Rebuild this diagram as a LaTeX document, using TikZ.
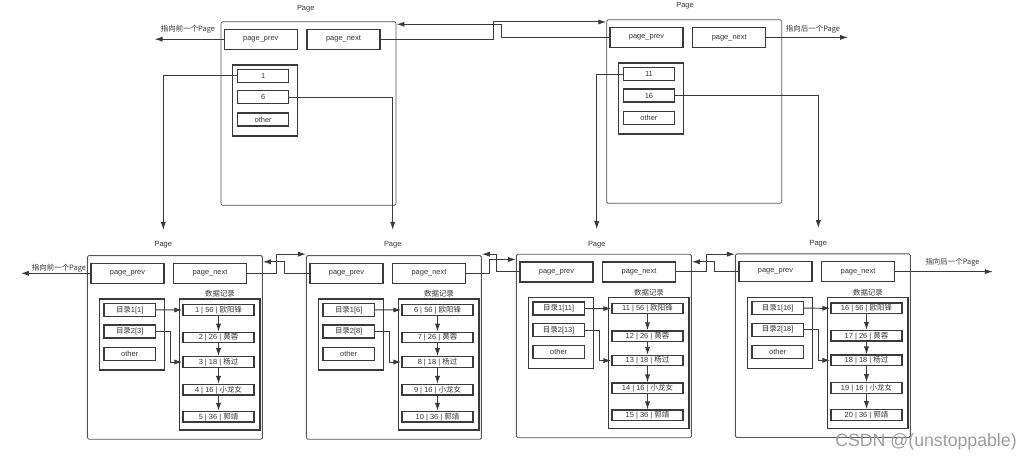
\documentclass[tikz,border=0pt]{standalone}
\usepackage{fontspec}
\setmainfont{Liberation Sans}
\newfontfamily\cjk{Noto Sans CJK SC}
\usetikzlibrary{arrows.meta,calc}
\definecolor{boxline}{HTML}{3A3A3A}
\definecolor{frameline}{HTML}{555555}
\definecolor{txt}{HTML}{333333}
\definecolor{mark}{HTML}{9C9C9C}

\begin{document}
\begin{tikzpicture}[x=0.25mm, y=-0.25mm,
	every node/.style={font=\fontsize{5.3}{6}\selectfont, text=txt},
	pagebox/.style={draw=frameline, line width=0.6pt, rounded corners=1pt, minimum width=43.75mm, minimum height=45.9mm, inner sep=0},
	fieldbox/.style={draw=boxline, line width=0.9pt, minimum width=18.3mm, minimum height=5mm, inner sep=0},
	idxbox/.style={draw=boxline, line width=0.9pt, minimum width=16.25mm, minimum height=17.75mm, inner sep=0},
	entrybox/.style={draw=boxline, line width=0.9pt, minimum width=12.8mm, minimum height=3.25mm, inner sep=0},
	databox/.style={draw=boxline, line width=0.9pt, minimum width=20.2mm, minimum height=32.8mm, inner sep=0},
	recbox/.style={draw=boxline, line width=0.9pt, minimum width=17.8mm, minimum height=2.6mm, inner sep=0},
	linkarrow/.style={draw=boxline, line width=0.7pt, -{Latex[length=2mm,width=1.3mm]}},
	droparrow/.style={linkarrow, shorten >=1.7mm}]
	\useasboundingbox (0,0) rectangle (1032,462);

	% upper pages
	\begin{scope}[shift={(221,22)}]
		\node[pagebox] (tl) at (87.5,91.5) {};
		\node[fieldbox] (tl-prev) at (39.8,17.2) {page\_prev};
		\node[fieldbox] (tl-next) at (122.5,17.2) {page\_next};
		\node[idxbox] (tl-idx) at (44.2,78.5) {};
		\node[entrybox] (tl-e1) at (42.2,53.7) {1};
		\node[entrybox] (tl-e2) at (42.2,75.3) {6};
		\node[entrybox] (tl-e3) at (42.2,97.5) {other};
	\end{scope}
	\node (tl-lbl) at (305.7,9) {Page};
	\begin{scope}[shift={(606.7,20)}]
		\node[pagebox] (tr) at (87.5,91.5) {};
		\node[fieldbox] (tr-prev) at (39.8,17.4) {page\_prev};
		\node[fieldbox] (tr-next) at (122.5,17.4) {page\_next};
		\node[idxbox] (tr-idx) at (44.2,78.5) {};
		\node[entrybox] (tr-e1) at (42.2,54) {11};
		\node[entrybox] (tr-e2) at (42.2,75.5) {16};
		\node[entrybox] (tr-e3) at (42.2,98) {other};
	\end{scope}
	\node (tr-lbl) at (685,5.7) {Page};

	% lower pages
	\foreach \i/\px/\py/\n/\lx/\ly in {1/87.7/255.7/1/163.3/245, 2/306.7/255.7/6/392.7/245,
			3/516.7/254.3/11/596.7/244.3, 4/735.7/254/16/818.3/243.3} {
		\begin{scope}[shift={(\px,\py)}]
			\node[pagebox] (b\i) at (87.2,91.7) {};
			\node[fieldbox] (b\i-prev) at (39.8,17.6) {page\_prev};
			\node[fieldbox] (b\i-next) at (122.3,17.6) {page\_next};
			\node (b\i-title) at (132.3,38.3) {\cjk 数据记录};
			\node[idxbox] (b\i-idx) at (44.1,78.8) {};
			\pgfmathtruncatemacro\m{\n+2}
			\node[entrybox] (b\i-e1) at (42,54.2) {{\cjk 目录}1[\n]};
			\node[entrybox] (b\i-e2) at (42,75.7) {{\cjk 目录}2[\m]};
			\node[entrybox] (b\i-e3) at (42,98) {other};
			\node[databox] (b\i-data) at (132,108.8) {};
			\foreach \ry/\age/\who [count=\j] in {54.3/56/欧阳锋, 81.8/26/黄蓉, 106.3/18/杨过, 134/16/小龙女, 161/36/郭靖} {
				\pgfmathtruncatemacro\k{\n+\j-1}
				\node[recbox] (b\i-r\j) at (130.8,\ry) {\k\ |\ \age\ |\ {\cjk\who}};
			}
		\end{scope}
		\node (b\i-lbl) at (\lx,\ly) {Page};
		\foreach \j [evaluate=\j as \jn using int(\j+1)] in {1,...,4}
			\draw[linkarrow] (b\i-r\j.south) -- (b\i-r\jn.north);
		\draw[linkarrow] (b\i-e1.east) -- (b\i-r1.west);
		\draw[linkarrow] (b\i-e2.east) -- ++(15,0) |- (b\i-r3.west);
	}

	% links between pages
	\draw[linkarrow] (tl-next.east) -- ++(113,0) |- ($(tr.north west)+(0,2.7)$);
	\draw[linkarrow] (tr-prev.west) -- ++(-108,0) |- ($(tl.north east)+(0,3)$);
	\draw[linkarrow] (b1-next.east) -- ++(29,0) |- ($(b2.north west)+(0,-1)$);
	\draw[linkarrow] (b2-prev.west) -- ++(-25,0) |- ($(b1.north east)+(0,6.6)$);
	\draw[linkarrow] (b2-next.east) -- ++(23.3,0) |- ($(b3.north west)+(0,5.7)$);
	\draw[linkarrow] (b3-prev.west) -- ++(-23,0) |- ($(b2.north east)+(0,-1)$);
	\draw[linkarrow] (b3-next.east) -- ++(30,0) |- ($(b4.north west)+(0,0.7)$);
	\draw[linkarrow] (b4-prev.west) -- ++(-24,0) |- ($(b3.north east)+(0,8)$);

	% outer pointers
	\draw[linkarrow] (tl-prev.west) -- ++(-69,0);
	\node (tl-note) at (188,29) {\cjk 指向前一个Page};
	\draw[linkarrow] (tr-next.east) -- ++(81.6,0);
	\node (tr-note) at (813,29) {\cjk 指向后一个Page};
	\draw[linkarrow] (b1-prev.west) -- ++(-69.3,0);
	\node (b1-note) at (59,268) {\cjk 指向前一个Page};
	\draw[linkarrow] (b4-next.east) -- ++(97.6,0);
	\node (b4-note) at (952.5,262) {\cjk 指向后一个Page};

	% index entries down to the leaf pages
	\draw[droparrow] (tl-e1.west) -| (b1-lbl.north);
	\draw[droparrow] (tl-e2.east) -| (b2-lbl.north);
	\draw[droparrow] (tr-e1.west) -| (b3-lbl.north);
	\draw[droparrow] (tr-e2.east) -| (b4-lbl.north);

	\node[text=mark, font=\fontsize{12.6}{14}\selectfont] (wm) at (926,442) {CSDN @(unstoppable)};
\end{tikzpicture}
\end{document}
